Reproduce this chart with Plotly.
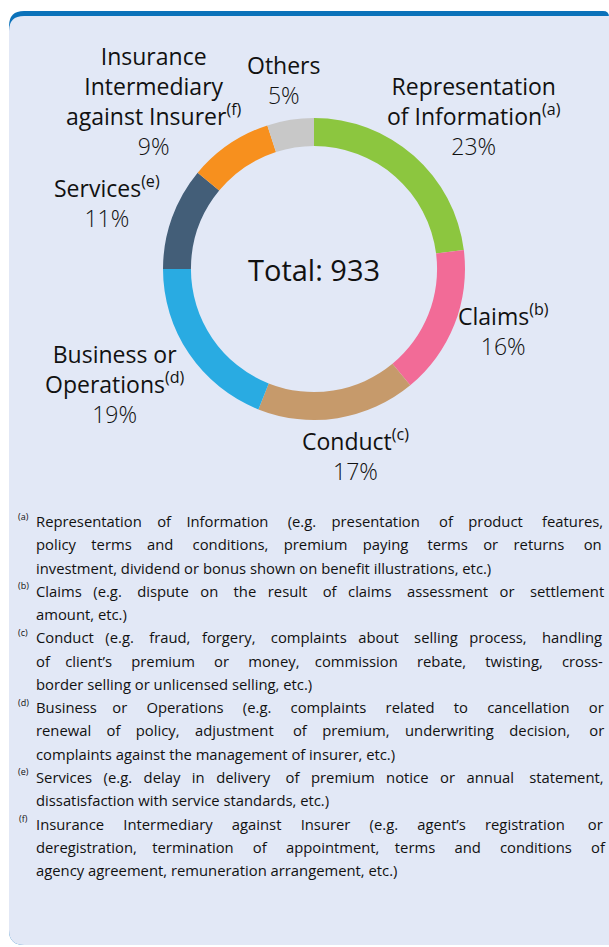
import plotly.graph_objects as go

W, H = 609, 947

# ---------------- data ----------------
categories = ["Representation of Information", "Claims", "Conduct",
              "Business or Operations", "Services",
              "Insurance Intermediary against Insurer", "Others"]
shares = [23, 16, 17, 19, 11, 9, 5]
total_cases = 933
label_names = [
    ["Representation", "of Information<sup>(a)</sup>"],
    ["Claims<sup>(b)</sup>"],
    ["Conduct<sup>(c)</sup>"],
    ["Business or", "Operations<sup>(d)</sup>"],
    ["Services<sup>(e)</sup>"],
    ["Insurance", "Intermediary", "against Insurer<sup>(f)</sup>"],
    ["Others"],
]
note_marks = ["(a)", "(b)", "(c)", "(d)", "(e)", "(f)"]
note_lines = [
    ["Representation of Information (e.g. presentation of product features,",
     "policy terms and conditions, premium paying terms or returns on",
     "investment, dividend or bonus shown on benefit illustrations, etc.)"],
    ["Claims (e.g. dispute on the result of claims assessment or settlement",
     "amount, etc.)"],
    ["Conduct (e.g. fraud, forgery, complaints about selling process, handling",
     "of client\u2019s premium or money, commission rebate, twisting, cross-",
     "border selling or unlicensed selling, etc.)"],
    ["Business or Operations (e.g. complaints related to cancellation or",
     "renewal of policy, adjustment of premium, underwriting decision, or",
     "complaints against the management of insurer, etc.)"],
    ["Services (e.g. delay in delivery  of premium notice or annual statement,",
     "dissatisfaction with service standards, etc.)"],
    ["Insurance Intermediary against Insurer (e.g. agent\u2019s registration or",
     "deregistration, termination of appointment, terms and conditions of",
     "agency agreement, remuneration arrangement, etc.)"],
]

# ---------------- styles / layout ----------------
colors = ["#8cc63f", "#f26b97", "#c69a6b", "#29abe2", "#435e78", "#f7901e", "#c8c8c8"]
PANEL = "#e2e8f6"
BLUE = "#0b72ba"
TXT = "#111111"
FONT = "Open Sans, Noto Sans, sans-serif"
LABEL_SIZE = 23

# label block centres in page pixels
label_pos = [(474, 116), (503, 330), (356, 455), (115, 384),
             (107, 202), (154, 101), (283, 80)]

CX, CY, R = 314, 269, 151


def px(x):
    return x / W


def py(y):
    return 1 - y / H


def P(x, y):
    return f"{px(x):.5f},{py(y):.5f}"


fig = go.Figure()
fig.add_trace(go.Pie(
    labels=categories, values=shares, sort=False, direction="clockwise",
    rotation=0, hole=0.815, textinfo="none", hoverinfo="label+percent",
    marker=dict(colors=colors, line=dict(width=0)),
    domain=dict(x=[px(CX - R), px(CX + R)], y=[py(CY + R), py(CY - R)]),
    showlegend=False,
))

shapes = []
r = 15
blue_path = (f"M {P(9, 11 + r)} Q {P(9, 11)} {P(9 + r, 11)} L {P(603, 11)} "
             f"Q {P(609, 11)} {P(609, 17)} L {P(609, 945)} L {P(9 + r, 945)} "
             f"Q {P(9, 945)} {P(9, 945 - r)} Z")
panel_path = (f"M {P(9, 16 + r)} Q {P(9, 16)} {P(9 + r, 16)} L {P(609, 16)} "
              f"L {P(609, 945)} L {P(9 + r, 945)} "
              f"Q {P(9, 945)} {P(9, 945 - r)} Z")
shapes.append(dict(type="path", path=blue_path, xref="paper", yref="paper",
                   fillcolor=BLUE, line=dict(width=0), layer="below"))
shapes.append(dict(type="path", path=panel_path, xref="paper", yref="paper",
                   fillcolor=PANEL, line=dict(width=0), layer="below"))

ann = []
ann.append(dict(x=px(CX), y=py(CY), xref="paper", yref="paper",
                text=f"Total: {total_cases}", showarrow=False,
                font=dict(family=FONT, size=29, color=TXT),
                xanchor="center", yanchor="middle"))

for names, v, (lx, ly) in zip(label_names, shares, label_pos):
    txt = "<br>".join(names) + f"<br><span style='font-weight:300'>{v}%</span>"
    ann.append(dict(x=px(lx), y=py(ly), xref="paper", yref="paper", text=txt,
                    showarrow=False, xanchor="center", yanchor="middle",
                    align="center",
                    font=dict(family=FONT, size=LABEL_SIZE, color=TXT)))

# ---- footnotes, justified using Open Sans advance widths (2048 upm) ----
OW = {
    ' ': 532, 'a': 1139, 'b': 1255, 'c': 983, 'd': 1255, 'e': 1149, 'f': 694,
    'g': 1122, 'h': 1257, 'i': 518, 'j': 518, 'k': 1075, 'l': 518, 'm': 1905,
    'n': 1257, 'o': 1237, 'p': 1255, 'q': 1255, 'r': 836, 's': 977, 't': 723,
    'u': 1257, 'v': 1026, 'w': 1593, 'x': 1073, 'y': 1028, 'z': 959,
    ',': 498, '.': 545, '(': 589, ')': 589, '-': 659, '\u2019': 356,
    'A': 1296, 'B': 1327, 'C': 1292, 'D': 1493, 'E': 1139, 'F': 1057, 'G': 1491,
    'H': 1511, 'I': 571, 'J': 547, 'K': 1257, 'L': 1073, 'M': 1836, 'N': 1556,
    'O': 1599, 'P': 1237, 'Q': 1599, 'R': 1274, 'S': 1096, 'T': 1116, 'U': 1497,
    'V': 1221, 'W': 1876, 'X': 1151, 'Y': 1122, 'Z': 1104,
}
NOTE_SIZE = 14.8


def tw(s):
    return sum(OW.get(ch, 1150) for ch in s) / 2048 * NOTE_SIZE


X0, X1 = 34, 603
SPACE = tw(" ")


def justify(line):
    words = line.split()
    gaps = len(words) - 1
    natural = sum(tw(w) for w in words) + gaps * SPACE
    extra = max(0, int((X1 - X0 - natural) / SPACE))
    out = words[0]
    for k in range(gaps):
        n_extra = (extra * (k + 1)) // gaps - (extra * k) // gaps
        out += "\u00a0" * (1 + n_extra) + words[k + 1]
    return out


Y0, STEP = 521, 23.27
row = 0
for mark, lines in zip(note_marks, note_lines):
    ann.append(dict(x=px(23), y=py(Y0 + row * STEP - 5), xref="paper", yref="paper",
                    text=mark, showarrow=False, xanchor="center", yanchor="middle",
                    font=dict(family=FONT, size=9, color=TXT)))
    for i, ln in enumerate(lines):
        last = i == len(lines) - 1
        t = ln if last else justify(ln)
        ann.append(dict(x=px(X0), y=py(Y0 + row * STEP), xref="paper", yref="paper",
                        text=t, showarrow=False, xanchor="left", yanchor="middle",
                        font=dict(family=FONT, size=NOTE_SIZE, color=TXT)))
        row += 1

fig.update_layout(
    width=W, height=H, margin=dict(l=0, r=0, t=0, b=0),
    paper_bgcolor="white", plot_bgcolor="white",
    shapes=shapes, annotations=ann, showlegend=False,
)
fig.write_html("out.html", config={"displayModeBar": False},
               post_script="document.body.style.margin='0';"
                           "document.body.style.overflow='hidden';")
